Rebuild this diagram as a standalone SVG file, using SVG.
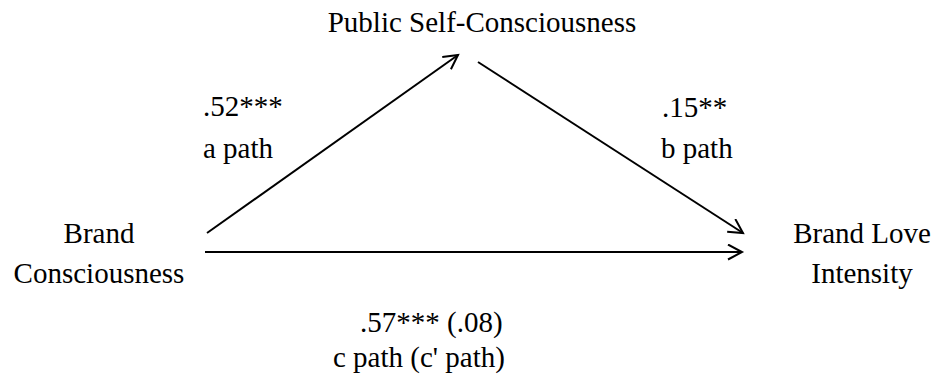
<svg xmlns="http://www.w3.org/2000/svg" width="936" height="376" viewBox="0 0 936 376">
<style>
text{font-family:"Liberation Serif","Times New Roman",serif;font-size:29px;fill:#000}
.n{text-anchor:middle}
.c{stroke:#000;stroke-width:2;fill:none}
</style>
<defs>
<marker id="ah" markerWidth="20" markerHeight="20" refX="15" refY="8" orient="auto" markerUnits="userSpaceOnUse">
<path d="M1,0.5 L15,8 L1,15.5" fill="none" stroke="#000" stroke-width="2"/>
</marker>
</defs>
<rect width="936" height="376" fill="#fff"/>
<g id="connectors">
<line class="c" x1="207" y1="233" x2="458" y2="55" marker-end="url(#ah)"/>
<line class="c" x1="478" y1="62" x2="743" y2="233" marker-end="url(#ah)"/>
<line class="c" x1="205" y1="252" x2="742" y2="252" marker-end="url(#ah)"/>
</g>
<g id="node-psc"><text class="n" x="482" y="32">Public Self-Consciousness</text></g>
<g id="node-bc"><text class="n" x="99" y="243">Brand</text><text class="n" x="99" y="283">Consciousness</text></g>
<g id="node-bli"><text class="n" x="862" y="243">Brand Love</text><text class="n" x="862" y="283">Intensity</text></g>
<g id="labels">
<text x="203" y="116">.52***</text>
<text x="203" y="158">a path</text>
<text x="662" y="117">.15**</text>
<text x="661" y="158">b path</text>
<text x="360" y="332">.57*** (.08)</text>
<text x="333" y="367">c path (c' path)</text>
</g>
</svg>
